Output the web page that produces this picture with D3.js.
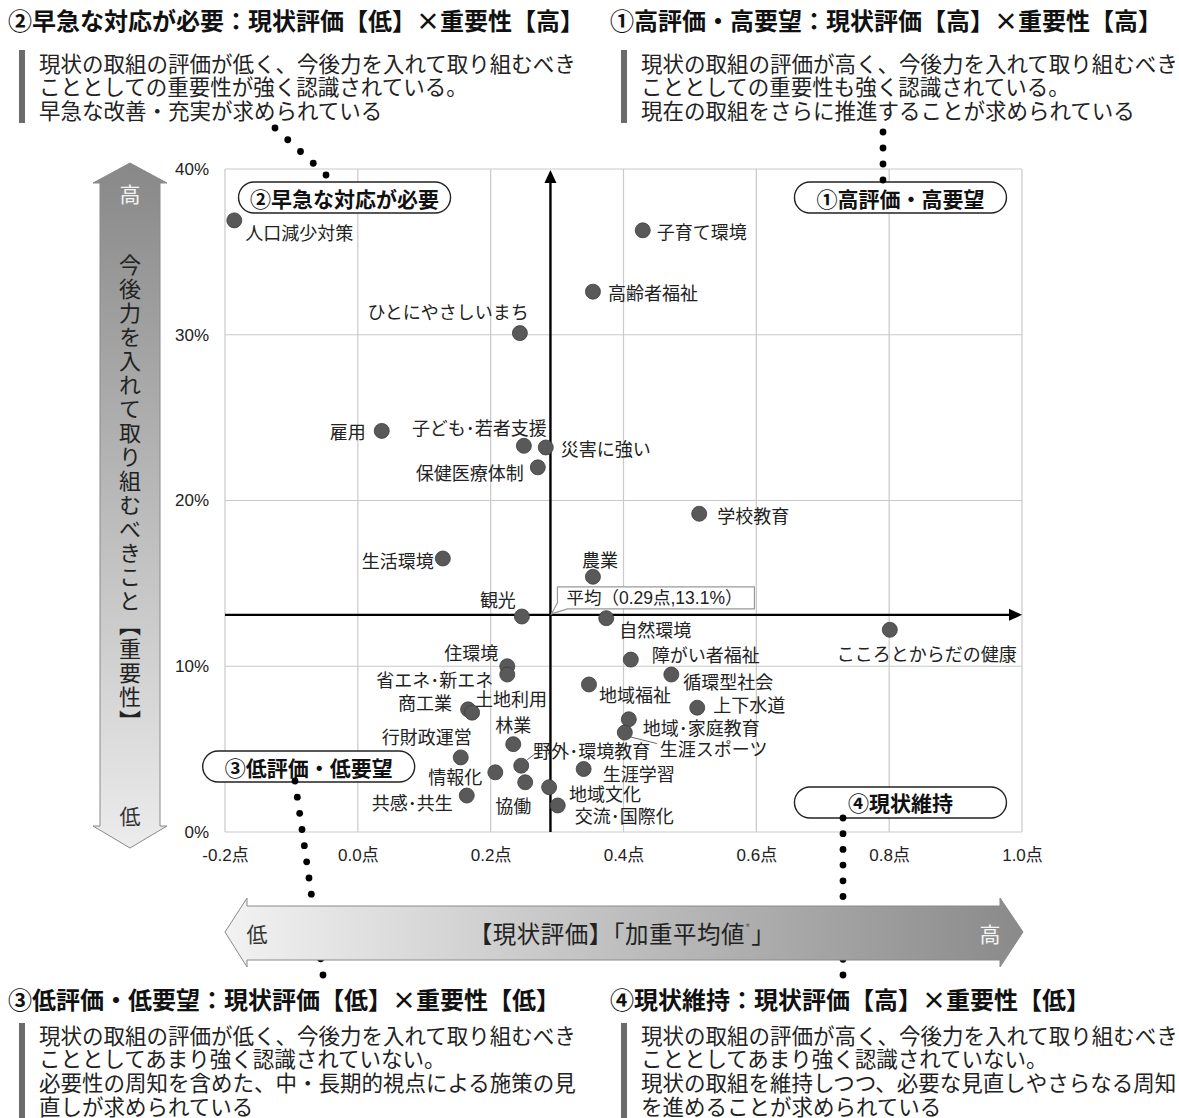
<!DOCTYPE html>
<html>
<head>
<meta charset="utf-8">
<script src="https://cdn.jsdelivr.net/npm/d3@7"></script>
<style>
  body { margin: 0; background: #fff; }
  svg { display: block; font-family: "Noto Sans CJK JP", "Noto Sans", sans-serif; }
</style>
</head>
<body>
<div class="chart-container"></div>
<script>
/* eslint-disable */
// ---- data ----
// (the point labels use the narrow middle dot, as printed in the chart)
var items = ['人口減少対策', '子育て環境', '高齢者福祉', 'ひとにやさしいまち', '雇用',
  '子ども･若者支援', '災害に強い', '保健医療体制', '学校教育', '生活環境',
  '農業', '観光', '自然環境', 'こころとからだの健康', '障がい者福祉',
  '住環境', '省エネ･新エネ', '循環型社会', '地域福祉', '上下水道',
  '商工業', '土地利用', '地域･家庭教育', '生涯スポーツ', '林業',
  '行財政運営', '野外･環境教育', '生涯学習', '情報化', '協働',
  '地域文化', '共感･共生', '交流･国際化'];
// 現状評価 (加重平均値, 点)
var evalScore = [-0.186, 0.429, 0.354, 0.244, 0.036,
  0.250, 0.283, 0.271, 0.514, 0.128,
  0.354, 0.247, 0.374, 0.801, 0.411,
  0.225, 0.225, 0.472, 0.348, 0.511,
  0.166, 0.172, 0.408, 0.402, 0.234,
  0.155, 0.246, 0.340, 0.207, 0.252,
  0.288, 0.164, 0.301];
// 重要性 (%)
var importance = [36.9, 36.3, 32.6, 30.1, 24.2,
  23.3, 23.2, 22.0, 19.2, 16.5,
  15.4, 13.0, 12.9, 12.2, 10.4,
  10.0, 9.5, 9.5, 8.9, 7.5,
  7.4, 7.2, 6.8, 6.0, 5.3,
  4.5, 4.0, 3.8, 3.6, 3.0,
  2.7, 2.2, 1.6];
var avgEval = 0.29, avgImportance = 13.1;
var xTicks = [-0.2, 0.0, 0.2, 0.4, 0.6, 0.8, 1.0];
var yTicks = [0, 10, 20, 30, 40];

var quadrantTags = ['①高評価・高要望', '②早急な対応が必要', '③低評価・低要望', '④現状維持'];
var headings = ['②早急な対応が必要：現状評価【低】×重要性【高】',
  '①高評価・高要望：現状評価【高】×重要性【高】',
  '③低評価・低要望：現状評価【低】×重要性【低】',
  '④現状維持：現状評価【高】×重要性【低】'];
var notes = [
  ['現状の取組の評価が低く、今後力を入れて取り組むべき', 'こととしての重要性が強く認識されている。', '早急な改善・充実が求められている'],
  ['現状の取組の評価が高く、今後力を入れて取り組むべき', 'こととしての重要性も強く認識されている。', '現在の取組をさらに推進することが求められている'],
  ['現状の取組の評価が低く、今後力を入れて取り組むべき', 'こととしてあまり強く認識されていない。', '必要性の周知を含めた、中・長期的視点による施策の見', '直しが求められている'],
  ['現状の取組の評価が高く、今後力を入れて取り組むべき', 'こととしてあまり強く認識されていない。', '現状の取組を維持しつつ、必要な見直しやさらなる周知', 'を進めることが求められている']
];

// ---- label placement (px offsets from the dot, anchor) ----
var labelPlace = [[11, 12, 'start'], [14, 1, 'start'], [15, 0, 'start'], [9, -22, 'end'], [-16, 0, 'end'],
  [23, -19, 'end'], [15, 1, 'start'], [-14, 5, 'end'], [18, 1, 'start'], [-9, 1, 'end'],
  [7, -18, 'middle'], [-6, -18, 'end'], [13, 11, 'start'], [37, 23, 'middle'], [21, -6, 'start'],
  [-9, -14, 'end'], [-14, 4, 'end'], [12, 6, 'start'], [10, 10, 'start'], [16, -4, 'start'],
  [-16, -7, 'end'], [3, -15, 'start'], [14, 8, 'start'], [35, 15, 'start'], [0, -20, 'middle'],
  [11, -21, 'end'], [12, -16, 'start'], [19, 4, 'start'], [-13, 4, 'end'], [-12, 23, 'middle'],
  [20, 6, 'start'], [-14, 6, 'end'], [17, 10, 'start']];
var leaders = {23: [4, 4, 32, 11], 26: [6, -6, 14, -12]};

var data = items.map(function (n, i) {
  return {name: n, x: evalScore[i], y: importance[i], lp: labelPlace[i], i: i};
});

var W = 1179, H = 1118;
var svg = d3.select('.chart-container').append('svg')
  .attr('width', W).attr('height', H);

var x = d3.scaleLinear().domain([-0.2, 1.0]).range([225, 1022]);
var y = d3.scaleLinear().domain([0, 40]).range([832, 169]);

var defs = svg.append('defs');
var gv = defs.append('linearGradient').attr('id', 'gv').attr('x1', 0).attr('y1', 0).attr('x2', 0).attr('y2', 1);
gv.append('stop').attr('offset', 0).attr('stop-color', '#888');
gv.append('stop').attr('offset', 1).attr('stop-color', '#ececec');
var gh = defs.append('linearGradient').attr('id', 'gh').attr('x1', 0).attr('y1', 0).attr('x2', 1).attr('y2', 0);
gh.append('stop').attr('offset', 0).attr('stop-color', '#f2f2f2');
gh.append('stop').attr('offset', 1).attr('stop-color', '#8a8a8a');

// grid
var grid = svg.append('g');
grid.selectAll('.gx').data(xTicks).enter().append('line')
  .attr('x1', function (d) { return x(d); }).attr('x2', function (d) { return x(d); })
  .attr('y1', y(0)).attr('y2', y(40))
  .attr('stroke', '#c9c9c9').attr('stroke-width', 1.2);
grid.selectAll('.gy').data(yTicks).enter().append('line')
  .attr('y1', function (d) { return y(d); }).attr('y2', function (d) { return y(d); })
  .attr('x1', x(-0.2)).attr('x2', x(1.0))
  .attr('stroke', '#c9c9c9').attr('stroke-width', 1.2);

// axes (labels only)
var xAxis = svg.append('g').attr('transform', 'translate(0,' + y(0) + ')')
  .call(d3.axisBottom(x).tickValues(xTicks).tickSize(0).tickPadding(17)
    .tickFormat(function (d) { return d.toFixed(1) + '点'; }));
var yAxis = svg.append('g').attr('transform', 'translate(' + x(-0.2) + ',0)')
  .call(d3.axisLeft(y).tickValues(yTicks).tickSize(0).tickPadding(16)
    .tickFormat(function (d) { return d + '%'; }));
[xAxis, yAxis].forEach(function (a) {
  a.select('.domain').remove();
  a.selectAll('text').attr('font-size', 17).attr('fill', '#222')
    .attr('font-family', '"Liberation Sans", "Noto Sans CJK JP", sans-serif');
});

// average cross arrows
var ax = x(avgEval), ay = y(avgImportance);
svg.append('line').attr('x1', ax).attr('x2', ax).attr('y1', y(0)).attr('y2', y(40) + 10)
  .attr('stroke', '#000').attr('stroke-width', 2.4);
svg.append('path').attr('d', 'M' + ax + ',' + (y(40) + 1) + 'l-6,13h12z').attr('fill', '#000');
svg.append('line').attr('x1', x(-0.2)).attr('x2', x(1.0) - 10).attr('y1', ay).attr('y2', ay)
  .attr('stroke', '#000').attr('stroke-width', 2.4);
svg.append('path').attr('d', 'M' + x(1.0) + ',' + ay + 'l-13,-6v12z').attr('fill', '#000');

// average callout
svg.append('path')
  .attr('d', 'M' + (ax + 7) + ',' + (ay - 28) + 'H' + (ax + 204) + 'V' + (ay - 6) +
    'H' + (ax + 17) + 'L' + (ax + 1) + ',' + (ay - 1) + 'L' + (ax + 7) + ',' + (ay - 12) + 'Z')
  .attr('fill', '#fff').attr('stroke', '#999').attr('stroke-width', 1.2);
svg.append('text').attr('x', ax + 16).attr('y', ay - 17).attr('dominant-baseline', 'central')
  .attr('font-size', 17.5).attr('fill', '#222')
  .attr('font-family', '"Liberation Sans", "Noto Sans CJK JP", sans-serif')
  .text('平均（' + avgEval.toFixed(2) + '点,' + avgImportance.toFixed(1) + '%）');

// leaders
Object.keys(leaders).forEach(function (k) {
  var d = data[k], l = leaders[k];
  svg.append('line')
    .attr('x1', x(d.x) + l[0]).attr('y1', y(d.y) + l[1])
    .attr('x2', x(d.x) + l[2]).attr('y2', y(d.y) + l[3])
    .attr('stroke', '#666').attr('stroke-width', 1);
});

// dots
svg.selectAll('.dot').data(data).enter().append('circle')
  .attr('cx', function (d) { return x(d.x); })
  .attr('cy', function (d) { return y(d.y); })
  .attr('r', 7.5)
  .attr('fill', '#595959').attr('stroke', '#3c3c3c').attr('stroke-width', 0.8);

// labels
svg.selectAll('.lbl').data(data).enter().append('text')
  .attr('x', function (d) { return x(d.x) + d.lp[0]; })
  .attr('y', function (d) { return y(d.y) + d.lp[1]; })
  .attr('text-anchor', function (d) { return d.lp[2]; })
  .attr('dominant-baseline', 'central')
  .attr('font-size', 18).attr('fill', '#222')
  .text(function (d) { return d.name; });

// quadrant tags (centres in data units)
var tagPos = [[0.817, 38.28], [-0.020, 38.28], [-0.074, 3.95], [0.817, 1.78]];
var tags = svg.selectAll('.tag').data(quadrantTags).enter().append('g')
  .attr('transform', function (d, i) { return 'translate(' + x(tagPos[i][0]) + ',' + y(tagPos[i][1]) + ')'; });
tags.append('rect').attr('x', -106).attr('y', -15.5).attr('width', 212).attr('height', 31).attr('rx', 15.5)
  .attr('fill', '#fff').attr('stroke', '#222').attr('stroke-width', 1.4);
tags.append('text').attr('text-anchor', 'middle').attr('dominant-baseline', 'central')
  .attr('font-size', 21).attr('font-weight', 'bold').attr('fill', '#111')
  .text(function (d) { return d; });

// dotted connectors
function dotted(x1, y1, x2, y2, n) {
  svg.append('g').selectAll('circle').data(d3.range(n)).enter().append('circle')
    .attr('cx', function (k) { return x1 + (x2 - x1) * k / (n - 1); })
    .attr('cy', function (k) { return y1 + (y2 - y1) * k / (n - 1); })
    .attr('r', 3.4).attr('fill', '#000');
}
dotted(275, 128, 326, 175, 5);
dotted(883, 132, 883, 180, 4);
dotted(295, 781, 323, 975, 13);
dotted(843, 818, 843, 975, 11);

// vertical gradient arrow
svg.append('path')
  .attr('d', 'M130,163 L167,183 L160,183 L160,826 L167,826 L130,848 L93,826 L100,826 L100,183 L93,183 Z')
  .attr('fill', 'url(#gv)').attr('stroke', '#8a8a8a').attr('stroke-width', 1);
svg.append('text').attr('x', 130).attr('y', 193).attr('text-anchor', 'middle').attr('dominant-baseline', 'central')
  .attr('font-size', 21).attr('fill', '#f4f4f4').text('高');
svg.append('text').attr('x', 130).attr('y', 815).attr('text-anchor', 'middle').attr('dominant-baseline', 'central')
  .attr('font-size', 21).attr('fill', '#333').text('低');
svg.append('text').attr('x', 130).attr('y', 494)
  .attr('writing-mode', 'vertical-rl').attr('text-anchor', 'middle')
  .attr('font-size', 22).attr('letter-spacing', 2).attr('fill', '#222')
  .text('今後力を入れて取り組むべきこと【重要性】');

// horizontal gradient arrow
svg.append('path')
  .attr('d', 'M225,932 L247,898 L247,906 L1000,906 L1000,898 L1023,932 L1000,967 L1000,960 L247,960 L247,967 Z')
  .attr('fill', 'url(#gh)').attr('stroke', '#8a8a8a').attr('stroke-width', 1);
svg.append('text').attr('x', 257).attr('y', 933).attr('text-anchor', 'middle').attr('dominant-baseline', 'central')
  .attr('font-size', 21).attr('fill', '#333').text('低');
svg.append('text').attr('x', 990).attr('y', 933).attr('text-anchor', 'middle').attr('dominant-baseline', 'central')
  .attr('font-size', 21).attr('fill', '#f4f4f4').text('高');
var ht = svg.append('text').attr('x', 622).attr('y', 933).attr('text-anchor', 'middle').attr('dominant-baseline', 'central')
  .attr('font-size', 23.5).attr('letter-spacing', 0.5).attr('fill', '#222');
ht.append('tspan').text('【現状評価】「加重平均値');
ht.append('tspan').attr('font-size', 12).attr('dy', -6).attr('fill', '#666').text('*');
ht.append('tspan').attr('dy', 6).text('」');

// note blocks
var blocks = [
  {x: 8, hy: 19, by: 62, bar: [50, 123]},
  {x: 610, hy: 19, by: 62, bar: [50, 123]},
  {x: 8, hy: 998, by: 1034, bar: [1023, 1118]},
  {x: 610, hy: 998, by: 1034, bar: [1023, 1118]}
];
blocks.forEach(function (b, i) {
  var g = svg.append('g');
  g.append('text').attr('x', b.x).attr('y', b.hy).attr('dominant-baseline', 'central')
    .attr('font-size', 24).attr('font-weight', 'bold').attr('fill', '#111').text(headings[i]);
  g.append('rect').attr('x', b.x + 11).attr('y', b.bar[0]).attr('width', 6).attr('height', b.bar[1] - b.bar[0])
    .attr('fill', '#6b6b6b');
  g.selectAll('.ln').data(notes[i]).enter().append('text')
    .attr('x', b.x + 31).attr('y', function (d, k) { return b.by + k * 23.8; })
    .attr('dominant-baseline', 'central')
    .attr('font-size', 21.5).attr('fill', '#222').text(function (d) { return d; });
});
</script>
</body>
</html>
